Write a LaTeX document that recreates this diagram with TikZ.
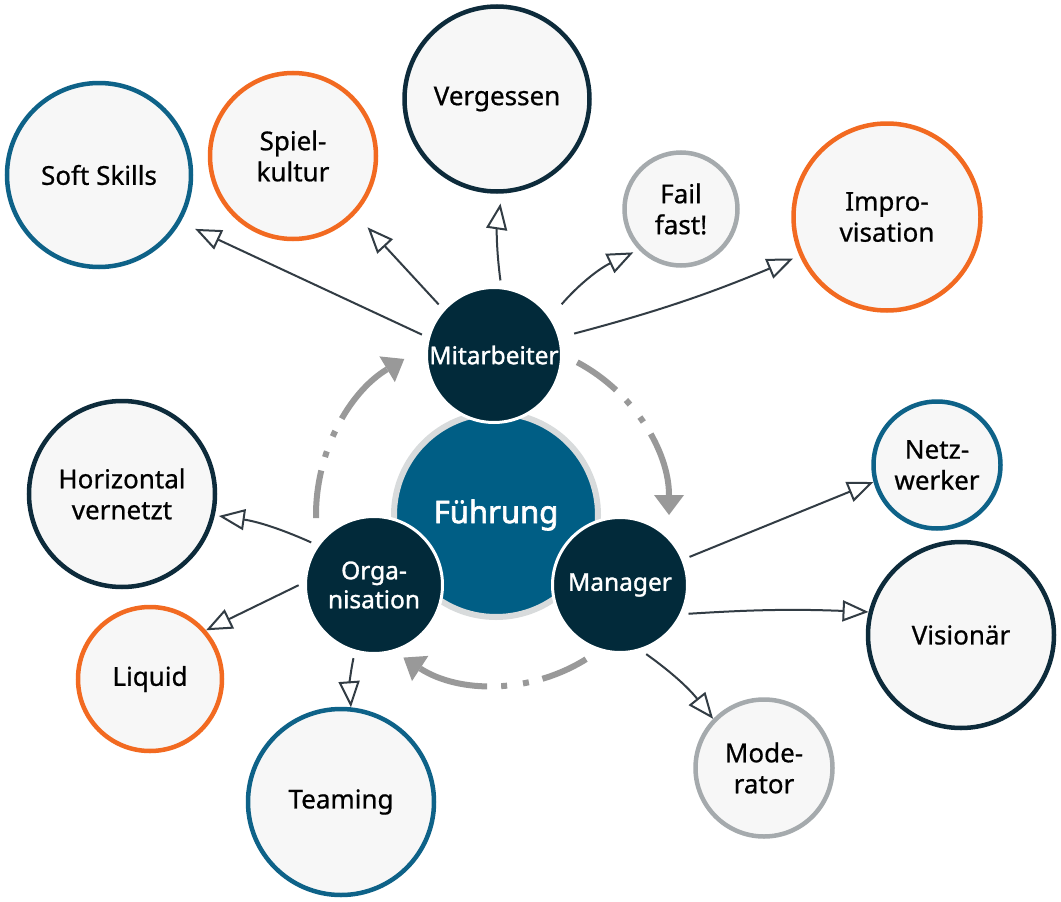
\documentclass[tikz,border=0pt]{standalone}
\usepackage{fontspec}
\setmainfont{Noto Sans}
\newfontfamily\txtfont{Noto Sans}[FakeBold=0.7]
\newfontfamily\corefont{Noto Sans}[FakeBold=1.3]
\newfontfamily\fufont{Noto Sans}[FakeBold=2.2]
\usetikzlibrary{arrows.meta,calc}
\definecolor{cblue}{HTML}{0E6288}
\definecolor{corange}{HTML}{F26A21}
\definecolor{cnavy}{HTML}{0D2B3B}
\definecolor{cgrey}{HTML}{A5AAAD}
\definecolor{cdark}{HTML}{022A3A}
\definecolor{cfu}{HTML}{005E85}
\definecolor{cfuring}{HTML}{D8DBDC}
\definecolor{cfill}{HTML}{F7F7F7}
\definecolor{cline}{HTML}{323C44}
\definecolor{carc}{HTML}{999999}
\begin{document}
\begin{tikzpicture}[x=1pt,y=-1pt,
 bubble/.style={circle, fill=cfill, line width=4.5pt, inner sep=0pt, align=center,
   font=\txtfont\fontsize{26}{31}\selectfont, text=black},
 core/.style={circle, fill=cdark, draw=white, line width=3pt, inner sep=0pt, align=center,
   text=white, font=\corefont\fontsize{24.5}{29}\selectfont},
 conn/.style={draw=cline, line width=2pt, shorten <=6pt,
   -{Triangle[open, length=26pt, width=21pt, line width=2pt]}},
 cyc/.style={draw=carc, line width=6pt,
   dash pattern=on 48pt off 14pt on 6pt off 16pt on 6pt off 14pt on 300pt,
   -{Triangle[length=20pt, width=30pt, line width=0pt]}}
]
\useasboundingbox (0,0) rectangle (1061,902);
\fill[white] (0,0) rectangle (1061,902);

% outer bubbles
\node[bubble, draw=cblue,   minimum size=184pt] (soft)   at (99,175)  {Soft Skills};
\node[bubble, draw=corange, minimum size=166pt] (spiel)  at (293,156) {Spiel-\\kultur};
\node[bubble, draw=cnavy,   minimum size=185pt] (verg)   at (497,99)  {Vergessen};
\node[bubble, draw=cgrey,   minimum size=113pt] (fail)   at (681,209) {Fail\\fast!};
\node[bubble, draw=corange, minimum size=187pt] (impro)  at (887,217) {Impro-\\visation};
\node[bubble, draw=cnavy,   minimum size=186pt] (horiz)  at (122,494) {Horizontal\\vernetzt};
\node[bubble, draw=corange, minimum size=144pt] (liquid) at (150,679) {Liquid};
\node[bubble, draw=cblue,   minimum size=186pt] (team)   at (341,802) {Teaming};
\node[bubble, draw=cblue,   minimum size=127pt] (netz)   at (937,465) {Netz-\\werker};
\node[bubble, draw=cnavy,   minimum size=186pt] (vision) at (961,635) {Visionär};
\node[bubble, draw=cgrey,   minimum size=137pt] (moder)  at (764,768) {Mode-\\rator};

% centre
\node[circle, fill=cfu, draw=cfuring, line width=6pt, minimum size=204pt, inner sep=0pt,
  text=white, font=\fufont\fontsize{31}{36}\selectfont] (fu) at (496,515) {Führung};
\node[core, minimum size=135pt] (mit) at (494,355) {Mitarbeiter};
\node[core, minimum size=137pt] (org) at (374,585) {Orga-\\nisation};
\node[core, minimum size=135pt] (man) at (620,585) {Manager};

% cycle arrows
\draw[cyc] ([shift={(62:173pt)}]fu.center) arc[start angle=62, end angle=0, radius=173pt];
\draw[cyc] ([shift={(-58:170pt)}]fu.center) arc[start angle=-58, end angle=-123, radius=170pt];
\draw[cyc] ([shift={(181:180pt)}]fu.center) arc[start angle=181, end angle=121, radius=182pt];

% connectors
\draw[conn, shorten >=16pt] (mit.165) -- (soft.-30);
\draw[conn, shorten >=18pt] (mit.138) -- (spiel.-43);
\draw[conn, shorten >=10pt] (mit.84) to[bend left=8] (verg.-87);
\draw[conn, shorten <=16pt, shorten >=6pt] (mit.34) to[bend left=12] (fail.-136);
\draw[conn, shorten <=14pt, shorten >=7pt] (mit.15) to[bend right=4] (impro.-156);
\draw[conn, shorten >=4pt] (org.145) to[bend right=8] (horiz.-13);
\draw[conn] (org.178) -- (liquid.41);
\draw[conn] (org.-106) to[bend right=8] (team.84);
\draw[conn] (man.22) -- (netz.-165);
\draw[conn] (man.-25) to[bend left=3] (vision.166);
\draw[conn] (man.-72) to[bend left=8] (moder.136);
\end{tikzpicture}
\end{document}
